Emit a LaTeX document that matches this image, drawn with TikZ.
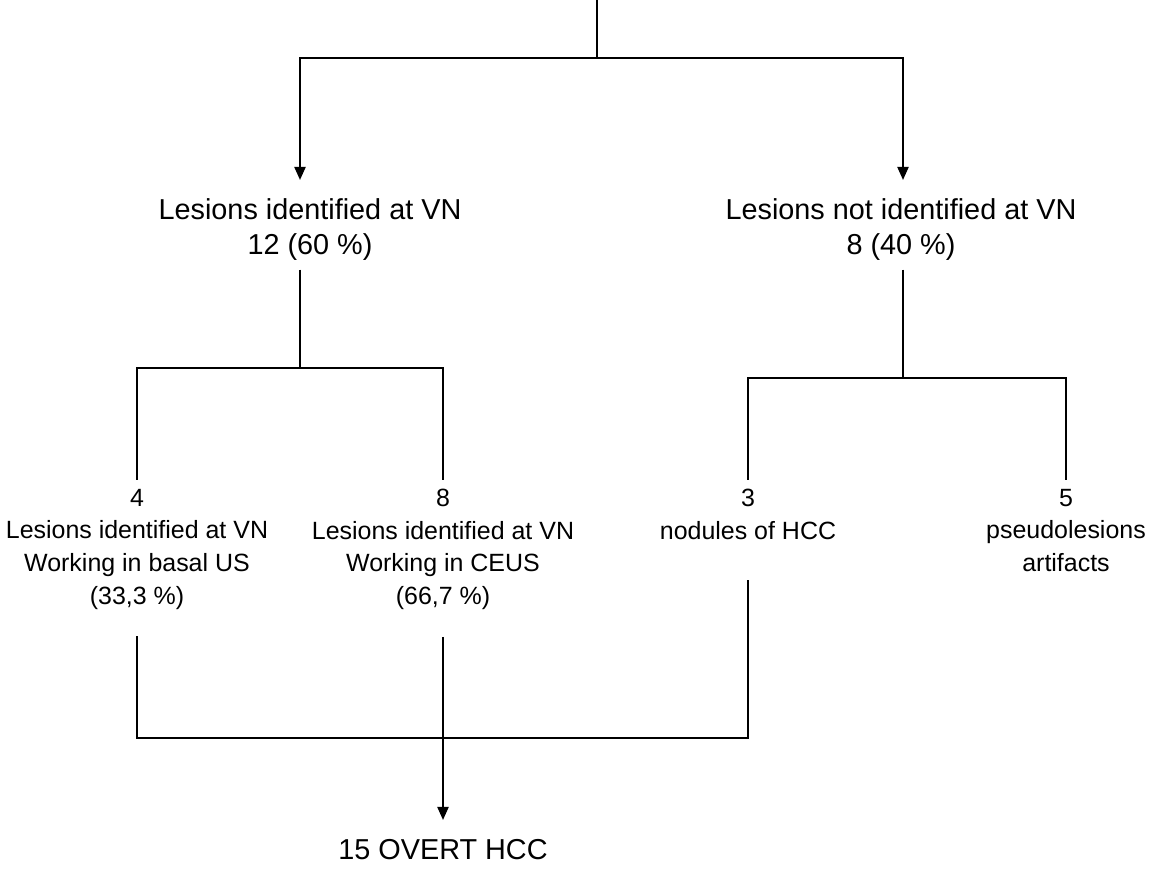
\documentclass[tikz,border=0pt]{standalone}
\usepackage{fontspec}
\setmainfont{Liberation Sans}
\usetikzlibrary{arrows.meta}

\begin{document}
\begin{tikzpicture}[
    line width=0.6pt,
    big/.style={align=center,inner sep=0.08cm,font=\fontsize{8.2}{9.9}\selectfont},
    small/.style={align=center,inner sep=0.08cm,anchor=north,font=\fontsize{7.1}{9.3}\selectfont},
    arr/.style={-{Triangle[length=0.13cm,width=0.11cm]},shorten >=0.1cm}]
    \useasboundingbox (0,0) rectangle (11.49,-8.73);

    \coordinate (top) at (5.97,0);
    \coordinate (split) at (5.97,-0.58);
    \node[big,anchor=north] (idvn) at (3.10,-1.90) {Lesions identified at VN\\12 (60 \%)};
    \node[big,anchor=north] (notvn) at (9.01,-1.90) {Lesions not identified at VN\\8 (40 \%)};
    \coordinate (splitl) at (3.00,-3.68);
    \coordinate (splitr) at (9.03,-3.78);
    \node[small] (basal) at (1.37,-4.80) {4\\Lesions identified at VN\\Working in basal US\\(33,3 \%)};
    \node[small] (ceus) at (4.43,-4.80) {8\\Lesions identified at VN\\Working in CEUS\\(66,7 \%)};
    \node[small] (hcc) at (7.48,-4.80) {3\\nodules of HCC};
    \node[small] (pseudo) at (10.66,-4.80) {5\\pseudolesions\\artifacts};
    \coordinate (join) at (4.43,-7.38);
    \node[big,anchor=north] (overt) at (4.43,-8.30) {15 OVERT HCC};

    \draw (top) -- (split);
    \draw[arr] (split) -| (splitl |- idvn.north);
    \draw[arr] (split) -| (splitr |- notvn.north);
    \draw (splitl |- idvn.south) -- (splitl);
    \draw (splitl) -| (basal.north);
    \draw (splitl) -| (ceus.north);
    \draw (splitr |- notvn.south) -- (splitr);
    \draw (splitr) -| (hcc.north);
    \draw (splitr) -| (pseudo.north);
    \draw[shorten <=0.18cm] (basal.south) |- (join);
    \draw[shorten <=0.32cm] (hcc.south) |- (join);
    \draw[arr,shorten <=0.18cm] (ceus.south) -- (overt.north);
\end{tikzpicture}
\end{document}
